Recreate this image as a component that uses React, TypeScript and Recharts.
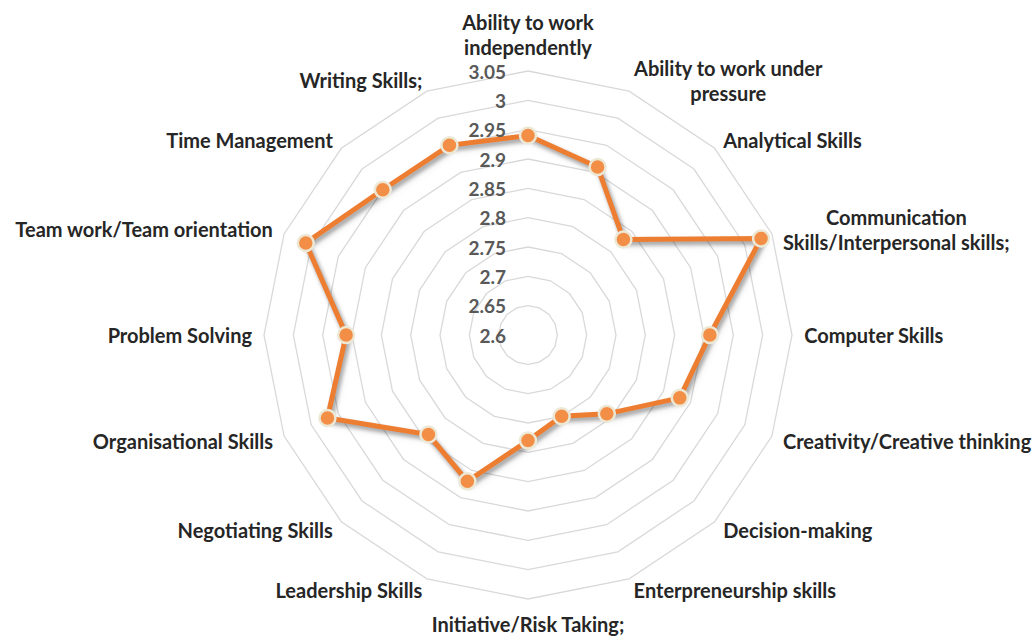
import React from 'react';
import { RadarChart, Radar, PolarGrid, PolarAngleAxis, PolarRadiusAxis } from 'recharts';

const CATEGORIES = [
  'Ability to work independently',
  'Ability to work under pressure',
  'Analytical Skills',
  'Communication Skills/Interpersonal skills;',
  'Computer Skills',
  'Creativity/Creative thinking',
  'Decision-making',
  'Enterpreneurship skills',
  'Initiative/Risk Taking;',
  'Leadership Skills',
  'Negotiating Skills',
  'Organisational Skills',
  'Problem Solving',
  'Team work/Team orientation',
  'Time Management',
  'Writing Skills;',
];

const LABEL_LINES: string[][] = [
  ['Ability to work', 'independently'],
  ['Ability to work under', 'pressure'],
  ['Analytical Skills'],
  ['Communication', 'Skills/Interpersonal skills;'],
  ['Computer Skills'],
  ['Creativity/Creative thinking'],
  ['Decision-making'],
  ['Enterpreneurship skills'],
  ['Initiative/Risk Taking;'],
  ['Leadership Skills'],
  ['Negotiating Skills'],
  ['Organisational Skills'],
  ['Problem Solving'],
  ['Team work/Team orientation'],
  ['Time Management'],
  ['Writing Skills;'],
];

const SCORES = [2.94, 2.91, 2.83, 3.03, 2.91, 2.88, 2.79, 2.75, 2.78, 2.87, 2.84, 2.97, 2.91, 3.01, 2.95, 2.95];

const RADIUS_DOMAIN: [number, number] = [2.6, 3.05];
const RADIUS_TICKS = [2.6, 2.65, 2.7, 2.75, 2.8, 2.85, 2.9, 2.95, 3, 3.05];

const data = CATEGORIES.map((c, i) => ({ category: c, score: SCORES[i] }));

const W = 1036;
const H = 638;
const CX = 528;
const CY = 335;
const R = 264;
const FONT = 'Lato, "Open Sans", sans-serif';
const LABEL_SIZE = 20;
const LINE_H = 25;

let measureCtx: CanvasRenderingContext2D | null = null;
function measure(text: string): number {
  if (!measureCtx) {
    const c = document.createElement('canvas');
    measureCtx = c.getContext('2d');
  }
  if (!measureCtx) return text.length * 10;
  measureCtx.font = `bold ${LABEL_SIZE}px ${FONT}`;
  return measureCtx.measureText(text).width;
}

const AngleTick = (props: any) => {
  const { x, y, payload } = props;
  const idx = CATEGORIES.indexOf(payload.value);
  const lines = LABEL_LINES[idx] || [payload.value];
  const dx = x - CX;
  const dy = y - CY;
  const len = Math.sqrt(dx * dx + dy * dy) || 1;
  const ux = dx / len;
  const uy = dy / len;
  const off = R + 12 - len;
  const px = x + ux * off;
  const py = y + uy * off;
  const maxW = Math.max(...lines.map(measure));
  let anchorX = px;
  if (ux > 0.05) anchorX = px + maxW / 2;
  else if (ux < -0.05) anchorX = px - maxW / 2;
  const blockH = lines.length * LINE_H;
  let top: number;
  if (Math.abs(ux) <= 0.05) {
    top = uy < 0 ? py - blockH : py;
  } else {
    top = py - blockH / 2;
  }
  return (
    <text fontFamily={FONT} fontWeight="bold" fontSize={LABEL_SIZE} fill="#262626" textAnchor="middle">
      {lines.map((l, i) => (
        <tspan key={i} x={anchorX} y={top + LINE_H * i + LINE_H / 2} dominantBaseline="central">
          {l}
        </tspan>
      ))}
    </text>
  );
};

const RadiusTick = (props: any) => {
  const { x, y, payload } = props;
  const v = Number(Number(payload.value).toFixed(2));
  return (
    <text
      x={x - 22}
      y={y}
      textAnchor="end"
      dominantBaseline="central"
      fontFamily={FONT}
      fontWeight="bold"
      fontSize={19}
      fill="#595959"
    >
      {String(v)}
    </text>
  );
};

const Dot = (props: any) => {
  const { cx, cy } = props;
  if (cx == null || cy == null) return null;
  return <circle cx={cx} cy={cy} r={8} fill="#F28E45" stroke="#EDE8D6" strokeWidth={2.5} />;
};

export default function App() {
  return (
    <div style={{ position: 'absolute', left: 0, top: 0, width: W, height: H, background: '#fff' }}>
      <style>{`.recharts-radar-polygon path, .recharts-radar-polygon { filter: drop-shadow(2px 3px 2px rgba(0,0,0,0.22)); }`}</style>
      <RadarChart
        width={W}
        height={H}
        data={data}
        cx={CX}
        cy={CY}
        outerRadius={R}
        startAngle={90}
        endAngle={-270}
        margin={{ top: 0, right: 0, bottom: 0, left: 0 }}
      >
        <PolarGrid gridType="polygon" radialLines={false} stroke="#d9d9d9" strokeWidth={1.3} />
        <PolarAngleAxis dataKey="category" tick={<AngleTick />} tickLine={false} axisLine={false} />
        <PolarRadiusAxis
          angle={90}
          type="number"
          scale="linear"
          domain={RADIUS_DOMAIN}
          ticks={RADIUS_TICKS as any}
          allowDataOverflow
          axisLine={false}
          tick={<RadiusTick />}
          tickLine={false}
        />
        <Radar
          dataKey="score"
          stroke="#ED7D31"
          strokeWidth={5}
          fill="none"
          fillOpacity={0}
          isAnimationActive={false}
          dot={<Dot />}
        />
      </RadarChart>
    </div>
  );
}
